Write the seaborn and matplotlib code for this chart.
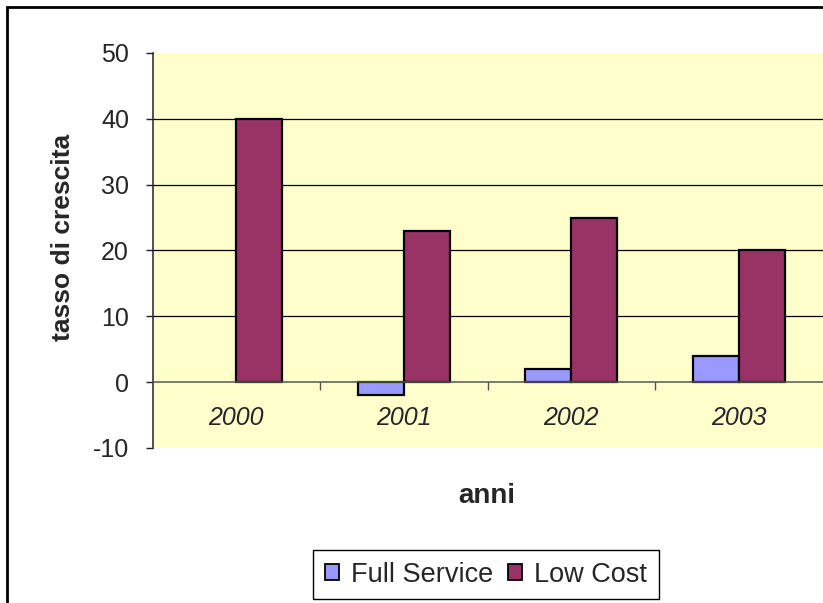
import matplotlib
matplotlib.use("Agg")
import matplotlib.pyplot as plt
import seaborn as sns
import pandas as pd
from matplotlib.patches import Rectangle

years = ["2000", "2001", "2002", "2003"]
full_service = [0, -2, 2, 4]
low_cost = [40, 23, 25, 20]
series_names = ["Full Service", "Low Cost"]
y_ticks = [-10, 0, 10, 20, 30, 40, 50]
grid_values = [10, 20, 30, 40]

df = pd.DataFrame({
    "anno": years * 2,
    "serie": [series_names[0]] * len(years) + [series_names[1]] * len(years),
    "valore": full_service + low_cost,
})

sns.set_style("white")
plt.rcParams["font.family"] = ["Liberation Sans", "DejaVu Sans"]

W, H = 823, 603
fig = plt.figure(figsize=(W / 100, H / 100), dpi=100)
fig.patch.set_facecolor("white")

left, right, top, bottom = 152.5, 822.5, 53, 448
ax = fig.add_axes([left / W, 1 - bottom / H, (right - left) / W, (bottom - top) / H])
ax.set_facecolor("#FFFFCC")

palette = {"Full Service": "#9999FF", "Low Cost": "#993366"}
sns.barplot(data=df, x="anno", y="valore", hue="serie", order=years,
            hue_order=series_names, palette=palette, width=0.55,
            edgecolor="black", linewidth=1.6, saturation=1, ax=ax, zorder=3)
# Excel does not draw zero-height bars
for p in ax.patches:
    if p.get_height() == 0:
        p.set_visible(False)

for g in grid_values:
    ax.axhline(g, color="black", linewidth=0.9, zorder=1)

ax.set_xlim(-0.5, len(years) - 0.5)
ax.set_ylim(y_ticks[0], y_ticks[-1])
ax.set_yticks(y_ticks)
ax.set_yticklabels([str(v) for v in y_ticks], fontsize=18)

for s in ["top", "right"]:
    ax.spines[s].set_visible(False)
ax.spines["bottom"].set_position(("data", 0))
ax.spines["bottom"].set_color("#555555")
ax.spines["bottom"].set_linewidth(1.1)
ax.spines["bottom"].set_zorder(4)
ax.spines["left"].set_color("#222222")
ax.spines["left"].set_linewidth(1.1)

ax.tick_params(axis="y", direction="out", length=5, width=1, color="#222222", pad=12, left=True)
ax.set_xticks(range(len(years)))
ax.set_xticklabels(years, fontsize=18, style="italic")
ax.set_xticks([i + 0.5 for i in range(len(years) - 1)], minor=True)
ax.tick_params(axis="x", which="major", length=0, pad=17)
ax.tick_params(axis="x", which="minor", direction="out", length=6, width=1, color="#555555", bottom=True)

ax.set_ylabel("tasso di crescita", fontsize=19, fontweight="bold")
ax.yaxis.set_label_coords((63 - left) / (right - left), (bottom - 237) / (bottom - top))
ax.yaxis.label.set_va("center")
ax.set_xlabel("anni", fontsize=20, fontweight="bold")
ax.xaxis.set_label_coords((487 - left) / (right - left), (bottom - 496) / (bottom - top))
ax.xaxis.label.set_va("center")

ax.get_legend().remove()
handles = [Rectangle((0, 0), 1, 1, facecolor=palette[n], edgecolor="black", linewidth=1.3) for n in series_names]
leg = fig.legend(handles, series_names, loc="center", bbox_to_anchor=(486 / W, 1 - 574.5 / H),
                 ncol=2, fontsize=19.5, frameon=True, fancybox=False, framealpha=1,
                 edgecolor="black", handlelength=0.52, handleheight=0.52,
                 handletextpad=0.45, columnspacing=0.55, borderpad=0.42, borderaxespad=0)
leg.get_frame().set_linewidth(1.0)

fig.patches.append(Rectangle((7 / W, -0.1), 1.2, (1 - 7 / H) + 0.1, transform=fig.transFigure,
                             fill=False, edgecolor="black", linewidth=2, clip_on=False))

fig.savefig("out.png", dpi=100, facecolor="white")
